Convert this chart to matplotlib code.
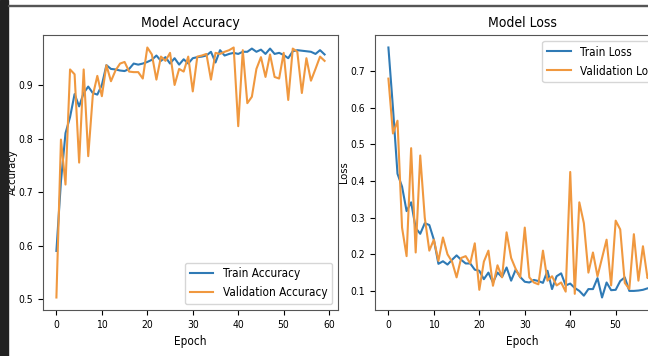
import matplotlib.pyplot as plt
from matplotlib import font_manager
from matplotlib.patches import Rectangle

# the screenshot text is narrow, use a condensed face if one is installed
narrow = [f for f in font_manager.fontManager.ttflist
          if 'Narrow' in f.name or 'Condensed' in f.name
          or f.stretch in ('condensed', 'semi-condensed', 'extra-condensed')]
if narrow:
    plt.rcParams['font.family'] = [narrow[0].name, 'DejaVu Sans']
    plt.rcParams['font.stretch'] = narrow[0].stretch
else:
    plt.rcParams['font.family'] = ['DejaVu Sans']

epochs = list(range(60))

train_acc = [0.59, 0.72, 0.81, 0.84, 0.883, 0.86, 0.885, 0.897, 0.885, 0.882,
             0.90, 0.937, 0.93, 0.929, 0.927, 0.926, 0.93, 0.94, 0.938, 0.94,
             0.943, 0.947, 0.955, 0.945, 0.952, 0.94, 0.95, 0.938, 0.948, 0.94,
             0.95, 0.952, 0.953, 0.955, 0.962, 0.942, 0.965, 0.955, 0.958, 0.96,
             0.958, 0.962, 0.962, 0.968, 0.962, 0.966, 0.958, 0.968, 0.958, 0.96,
             0.956, 0.95, 0.963, 0.965, 0.964, 0.963, 0.962, 0.958, 0.965, 0.957]
val_acc = [0.503, 0.798, 0.714, 0.929, 0.92, 0.755, 0.929, 0.767, 0.88, 0.917,
           0.879, 0.937, 0.907, 0.927, 0.94, 0.943, 0.925, 0.924, 0.924, 0.912,
           0.97, 0.957, 0.91, 0.953, 0.945, 0.96, 0.90, 0.93, 0.925, 0.953,
           0.888, 0.953, 0.955, 0.958, 0.91, 0.96, 0.958, 0.962, 0.965, 0.97,
           0.823, 0.965, 0.866, 0.878, 0.93, 0.952, 0.915, 0.957, 0.915, 0.912,
           0.96, 0.872, 0.968, 0.962, 0.885, 0.95, 0.908, 0.93, 0.953, 0.945]

train_loss = [0.765, 0.60, 0.42, 0.385, 0.318, 0.342, 0.272, 0.256, 0.285, 0.28,
              0.24, 0.174, 0.181, 0.172, 0.185, 0.197, 0.185, 0.175, 0.175, 0.158,
              0.155, 0.132, 0.15, 0.123, 0.15, 0.138, 0.164, 0.128, 0.158, 0.138,
              0.125, 0.123, 0.13, 0.127, 0.122, 0.155, 0.105, 0.14, 0.148, 0.115,
              0.12, 0.108, 0.1, 0.087, 0.105, 0.105, 0.135, 0.082, 0.123, 0.102,
              0.103, 0.127, 0.137, 0.1, 0.1, 0.101, 0.103, 0.107, 0.108, 0.106]
val_loss = [0.68, 0.53, 0.565, 0.273, 0.195, 0.49, 0.205, 0.47, 0.30, 0.21,
            0.24, 0.182, 0.246, 0.20, 0.18, 0.137, 0.19, 0.195, 0.175, 0.23,
            0.103, 0.18, 0.21, 0.114, 0.17, 0.137, 0.26, 0.19, 0.16, 0.137,
            0.273, 0.137, 0.123, 0.118, 0.21, 0.128, 0.14, 0.115, 0.123, 0.098,
            0.425, 0.092, 0.342, 0.285, 0.15, 0.205, 0.14, 0.19, 0.24, 0.115,
            0.292, 0.268, 0.122, 0.105, 0.255, 0.128, 0.222, 0.135, 0.16, 0.14]

blue = '#2f7ab5'
orange = '#f0983f'

fig = plt.figure(figsize=(6.48, 3.56), dpi=100)

# screenshot frame
fig.patches.append(Rectangle((0, 0), 8 / 648, 1, transform=fig.transFigure,
                             color='#222222', zorder=0))
fig.patches.append(Rectangle((8 / 648, 1 - 6 / 356), 1, 1.5 / 356,
                             transform=fig.transFigure, color='#555555', zorder=0))

ax1 = fig.add_axes([43 / 648, 46 / 356, 295 / 648, 275 / 356])
ax2 = fig.add_axes([375 / 648, 46 / 356, 295 / 648, 275 / 356])

ax1.plot(epochs, train_acc, label='Train Accuracy', lw=1.5, color=blue)
ax1.plot(epochs, val_acc, label='Validation Accuracy', lw=1.5, color=orange)
ax1.set_title('Model Accuracy', fontsize=10)
ax1.set_xlabel('Epoch', fontsize=8.5)
ax1.set_ylabel('Accuracy', fontsize=8)
ax1.yaxis.set_label_coords(-0.086, 0.5)
ax1.legend(loc='lower right', fontsize=8.5)

ax2.plot(epochs, train_loss, label='Train Loss', lw=1.5, color=blue)
ax2.plot(epochs, val_loss, label='Validation Loss', lw=1.5, color=orange)
ax2.set_title('Model Loss', fontsize=10)
ax2.set_xlabel('Epoch', fontsize=8.5)
ax2.set_ylabel('Loss', fontsize=8)
ax2.yaxis.set_label_coords(-0.088, 0.5)
ax2.legend(loc='upper right', fontsize=8.5)

for ax in (ax1, ax2):
    ax.tick_params(labelsize=7.5)
    for s in ax.spines.values():
        s.set_color('#555555')

fig.savefig('out.png', dpi=100)
